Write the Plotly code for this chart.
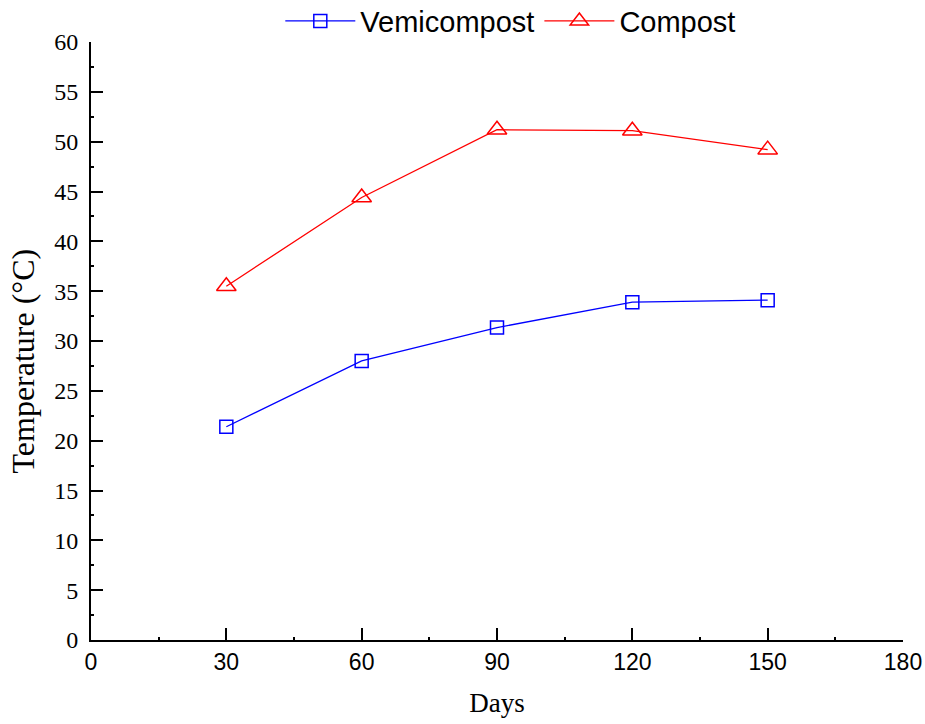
import plotly.graph_objects as go

days = [30, 60, 90, 120, 150]
vermicompost = [21.4, 28.0, 31.35, 33.9, 34.1]
compost = [35.5, 44.4, 51.2, 51.1, 49.2]
x_ticks = [0, 30, 60, 90, 120, 150, 180]
y_ticks = [0, 5, 10, 15, 20, 25, 30, 35, 40, 45, 50, 55, 60]

fig = go.Figure()
fig.add_trace(go.Scatter(
    x=days, y=vermicompost, name="Vemicompost", mode="lines+markers",
    line=dict(color="#0000ff", width=1.3),
    marker=dict(symbol="square-open", size=13, color="#0000ff", line=dict(width=1.5)),
))
fig.add_trace(go.Scatter(
    x=days, y=compost, name="Compost", mode="lines+markers",
    line=dict(color="#ff0000", width=1.3),
    marker=dict(symbol="triangle-up-open", size=17, color="#ff0000", line=dict(width=1.5)),
))

fig.update_layout(
    width=925, height=724,
    margin=dict(l=91, r=22, t=42, b=84, autoexpand=False),
    plot_bgcolor="white", paper_bgcolor="white",
    showlegend=True,
    legend=dict(orientation="h", x=0.517, xanchor="center", y=1.035, yanchor="middle",
                font=dict(family="Liberation Sans, Arial", size=29, color="black"),
                itemwidth=70, tracegroupgap=0, bgcolor="rgba(0,0,0,0)"),
    font=dict(family="Liberation Serif, Times New Roman", color="black"),
)
fig.update_xaxes(
    range=[0, 180], tickmode="array", tickvals=x_ticks,
    ticktext=[str(v) for v in x_ticks],
    showgrid=False, zeroline=False, showline=True, linecolor="black", linewidth=2,
    ticks="inside", ticklen=12, tickwidth=2, tickcolor="black",
    minor=dict(ticks="inside", ticklen=3, tickwidth=1.5, tickcolor="black", dtick=15, showgrid=False),
    tickfont=dict(family="Liberation Sans, Arial", size=23, color="black"),
    title=dict(text="Days", font=dict(family="Liberation Serif, Times New Roman", size=27, color="black"), standoff=20),
)
fig.update_yaxes(
    range=[0, 60], tickmode="array", tickvals=y_ticks,
    ticktext=[str(v) for v in y_ticks],
    showgrid=False, zeroline=False, showline=True, linecolor="black", linewidth=2,
    ticks="inside", ticklen=12, tickwidth=2, tickcolor="black",
    minor=dict(ticks="inside", ticklen=3, tickwidth=1.5, tickcolor="black", dtick=2.5, showgrid=False),
    tickfont=dict(family="Liberation Serif, Times New Roman", size=24, color="black"),
    ticklabelstandoff=6,
)
fig.add_annotation(
    text="Temperature (°C)", textangle=-90, showarrow=False,
    xref="paper", yref="paper", x=-0.084, y=0.467, xanchor="center", yanchor="middle",
    font=dict(family="Liberation Serif, Times New Roman", size=32, color="black"),
)

fig.write_html("out.html", config={"displayModeBar": False},
               post_script="document.body.style.margin='0';document.body.style.overflow='hidden';")
